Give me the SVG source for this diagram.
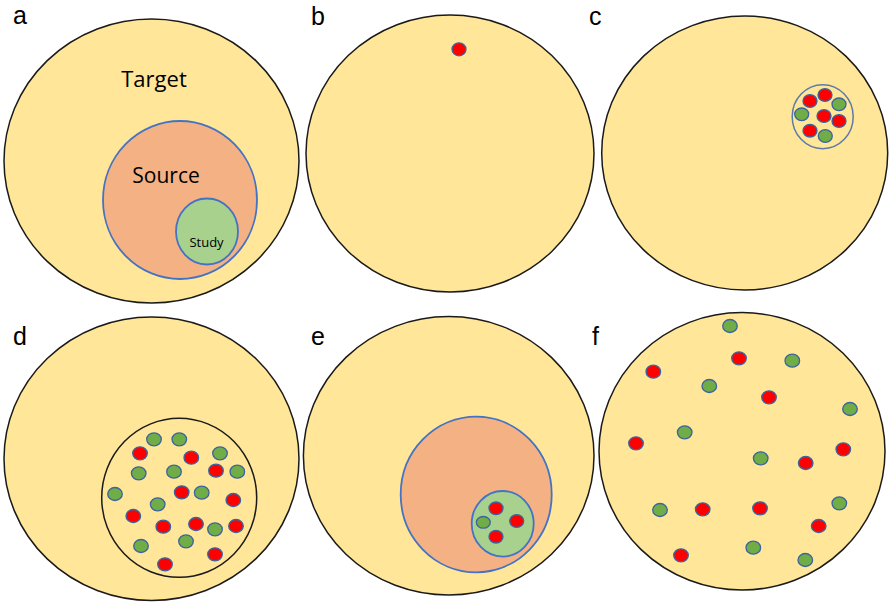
<svg xmlns="http://www.w3.org/2000/svg" width="891" height="603" viewBox="0 0 891 603">
<style>
.bg{fill:#FFE699;stroke:#1a1a1a;stroke-width:1.5}
.src{fill:#F4B183;stroke:#4472C4;stroke-width:1.8}
.std{fill:#A9D18E;stroke:#4472C4;stroke-width:1.8}
.grp{fill:#FFE699;stroke:#5B7BA8;stroke-width:1.5}
.grpk{fill:#FFE699;stroke:#1a1a1a;stroke-width:1.5}
.r{fill:#FF0000;stroke:#3B64A0;stroke-width:1.3}
.g{fill:#70AD47;stroke:#3B64A0;stroke-width:1.3}
.lbl{font-family:"Liberation Sans",Arial,sans-serif;font-size:25px;fill:#000}
.t{font-family:"Open Sans","Liberation Sans",sans-serif;fill:#000}
</style>
<rect width="891" height="603" fill="#fff"/>

<g id="panel-a">
<text class="lbl" x="13" y="24">a</text>
<ellipse id="a-target" class="bg" cx="151.5" cy="161" rx="147.5" ry="142"/>
<text class="t" x="154" y="87" font-size="22" text-anchor="middle">Target</text>
<ellipse id="a-source" class="src" cx="180" cy="200" rx="77" ry="79"/>
<text class="t" x="166" y="183" font-size="21" text-anchor="middle">Source</text>
<ellipse id="a-study" class="std" cx="207" cy="231.5" rx="31" ry="33"/>
<text class="t" x="206.5" y="247" font-size="13" text-anchor="middle">Study</text>
</g>

<g id="panel-b">
<text class="lbl" x="311" y="25">b</text>
<ellipse id="b-target" class="bg" cx="450" cy="153.5" rx="144" ry="138.5"/>
<ellipse class="r" cx="459" cy="49.3" rx="7" ry="6.5"/>
</g>

<g id="panel-c">
<text class="lbl" x="589" y="25">c</text>
<ellipse id="c-target" class="bg" cx="744.7" cy="153" rx="143" ry="137"/>
<ellipse id="c-sample" class="grp" cx="822.7" cy="116.7" rx="30.5" ry="32"/>
<ellipse class="r" cx="810" cy="101" rx="7" ry="6.3"/>
<ellipse class="r" cx="825" cy="95" rx="7" ry="6.3"/>
<ellipse class="g" cx="839" cy="104.3" rx="7" ry="6.3"/>
<ellipse class="g" cx="801.7" cy="114.3" rx="7" ry="6.3"/>
<ellipse class="r" cx="824" cy="116" rx="7" ry="6.3"/>
<ellipse class="r" cx="839" cy="121" rx="7" ry="6.3"/>
<ellipse class="r" cx="810" cy="130.7" rx="7" ry="6.3"/>
<ellipse class="g" cx="825.3" cy="136" rx="7" ry="6.3"/>
</g>

<g id="panel-d">
<text class="lbl" x="13" y="345">d</text>
<ellipse id="d-target" class="bg" cx="151.5" cy="458.7" rx="147.5" ry="141.7"/>
<ellipse id="d-sample" class="grpk" cx="179.2" cy="497.8" rx="77.5" ry="79.5"/>
<ellipse class="g" cx="154" cy="439.3" rx="7.3" ry="6.5"/>
<ellipse class="g" cx="179.3" cy="439.3" rx="7.3" ry="6.5"/>
<ellipse class="g" cx="220" cy="453.3" rx="7.3" ry="6.5"/>
<ellipse class="g" cx="138.7" cy="473.3" rx="7.3" ry="6.5"/>
<ellipse class="g" cx="174" cy="471.7" rx="7.3" ry="6.5"/>
<ellipse class="g" cx="237.3" cy="471.7" rx="7.3" ry="6.5"/>
<ellipse class="g" cx="115" cy="494" rx="7.3" ry="6.5"/>
<ellipse class="g" cx="201.7" cy="492.7" rx="7.3" ry="6.5"/>
<ellipse class="g" cx="157.7" cy="504.3" rx="7.3" ry="6.5"/>
<ellipse class="g" cx="215" cy="529.3" rx="7.3" ry="6.5"/>
<ellipse class="g" cx="141" cy="546" rx="7.3" ry="6.5"/>
<ellipse class="g" cx="186" cy="541.3" rx="7.3" ry="6.5"/>
<ellipse class="r" cx="140" cy="453.3" rx="7.3" ry="6.5"/>
<ellipse class="r" cx="191.3" cy="457.7" rx="7.3" ry="6.5"/>
<ellipse class="r" cx="216" cy="470.7" rx="7.3" ry="6.5"/>
<ellipse class="r" cx="181.7" cy="492.3" rx="7.3" ry="6.5"/>
<ellipse class="r" cx="233.3" cy="500" rx="7.3" ry="6.5"/>
<ellipse class="r" cx="133.3" cy="516" rx="7.3" ry="6.5"/>
<ellipse class="r" cx="163.3" cy="526.7" rx="7.3" ry="6.5"/>
<ellipse class="r" cx="196" cy="524" rx="7.3" ry="6.5"/>
<ellipse class="r" cx="236" cy="526" rx="7.3" ry="6.5"/>
<ellipse class="r" cx="215" cy="554.3" rx="7.3" ry="6.5"/>
<ellipse class="r" cx="165" cy="564.3" rx="7.3" ry="6.5"/>
</g>

<g id="panel-e">
<text class="lbl" x="311" y="345">e</text>
<ellipse id="e-target" class="bg" cx="448.7" cy="455.8" rx="145.3" ry="139.2"/>
<ellipse id="e-source" class="src" cx="476.2" cy="494.5" rx="75.5" ry="77.8"/>
<ellipse id="e-study" class="std" cx="502.7" cy="523.8" rx="31" ry="32.8"/>
<ellipse class="r" cx="496" cy="508.3" rx="7" ry="6.3"/>
<ellipse class="r" cx="516.7" cy="521" rx="7" ry="6.3"/>
<ellipse class="g" cx="483.3" cy="522.3" rx="7" ry="5.8"/>
<ellipse class="r" cx="496" cy="536.7" rx="7" ry="6.3"/>
</g>

<g id="panel-f">
<text class="lbl" x="592" y="345">f</text>
<ellipse id="f-target" class="bg" cx="742" cy="451.3" rx="143" ry="138.7"/>
<ellipse class="g" cx="730" cy="326" rx="7.3" ry="6.5"/>
<ellipse class="g" cx="792.3" cy="360.7" rx="7.3" ry="6.5"/>
<ellipse class="g" cx="709.3" cy="386" rx="7.3" ry="6.5"/>
<ellipse class="g" cx="850" cy="409" rx="7.3" ry="6.5"/>
<ellipse class="g" cx="684.7" cy="432.3" rx="7.3" ry="6.5"/>
<ellipse class="g" cx="760.7" cy="458.3" rx="7.3" ry="6.5"/>
<ellipse class="g" cx="660" cy="510" rx="7.3" ry="6.5"/>
<ellipse class="g" cx="839.3" cy="503.3" rx="7.3" ry="6.5"/>
<ellipse class="g" cx="753.3" cy="547.7" rx="7.3" ry="6.5"/>
<ellipse class="g" cx="805.3" cy="560" rx="7.3" ry="6.5"/>
<ellipse class="r" cx="739" cy="358.3" rx="7.3" ry="6.5"/>
<ellipse class="r" cx="653.3" cy="371.7" rx="7.3" ry="6.5"/>
<ellipse class="r" cx="769" cy="397.3" rx="7.3" ry="6.5"/>
<ellipse class="r" cx="636" cy="443.3" rx="7.3" ry="6.5"/>
<ellipse class="r" cx="843.3" cy="449.3" rx="7.3" ry="6.5"/>
<ellipse class="r" cx="805.7" cy="463" rx="7.3" ry="6.5"/>
<ellipse class="r" cx="702.7" cy="509.3" rx="7.3" ry="6.5"/>
<ellipse class="r" cx="760" cy="508.3" rx="7.3" ry="6.5"/>
<ellipse class="r" cx="818.7" cy="526" rx="7.3" ry="6.5"/>
<ellipse class="r" cx="681" cy="555.3" rx="7.3" ry="6.5"/>
</g>
</svg>
